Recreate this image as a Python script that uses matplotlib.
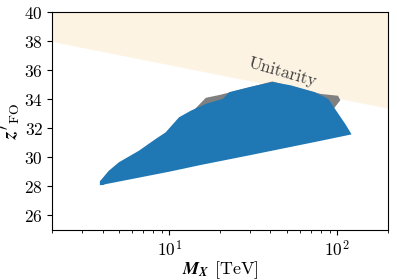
import numpy as np
import matplotlib
matplotlib.use("Agg")
import matplotlib.pyplot as plt

plt.rcParams.update({
    "font.family": "serif",
    "font.serif": ["cmr10"],
    "mathtext.fontset": "cm",
    "mathtext.rm": "cmr10",
    "mathtext.it": "cmmi10",
    "mathtext.bfit": "STIXGeneral:italic:bold",
    "axes.formatter.use_mathtext": True,
    "axes.unicode_minus": False,
})

# Unitarity bound (line in log M_X)
unit_x = [2.0, 200.0]
unit_y = [38.0, 33.4]

# Blue region boundary (M_X [TeV], z'_FO)
blue_x = [3.93, 4.41, 5.06, 6.66, 8.38, 9.62, 11.56, 13.58, 16.7, 21.0, 23.0, 30.3,
          41.0, 52.7, 72.7, 87.3, 95.7, 110.0, 118.0,
          76.0, 30.0, 15.2, 10.0, 3.93]
blue_y = [28.32, 29.01, 29.59, 30.39, 31.20, 31.66, 32.70, 33.15, 33.62, 33.96, 34.42, 34.77,
          35.11, 34.88, 34.42, 33.96, 33.27, 32.24, 31.66,
          31.20, 30.25, 29.57, 29.12, 28.2]

# Grey region boundary
grey_x = [14.5, 16.6, 20.1, 26.4, 41.0, 79.6, 100.0, 102.5, 94.0, 60.0, 20.0]
grey_y = [33.35, 34.05, 34.25, 34.6, 35.17, 34.31, 34.19, 33.96, 33.4, 33.0, 32.0]

# Isolated edge points on the low-mass tip
dots_x = [3.98, 4.35, 4.6, 4.95, 5.3]
dots_y = [28.33, 28.55, 28.85, 29.0, 29.3]

fig = plt.figure(figsize=(3.97, 2.80), dpi=100)
ax = fig.add_axes([0.131, 0.1786, 0.846, 0.7768])

xs = np.logspace(np.log10(unit_x[0]), np.log10(unit_x[1]), 50)
ys = np.interp(np.log10(xs), np.log10(unit_x), unit_y)
ax.fill_between(xs, ys, 40, color="#fdf3e2", lw=0, zorder=0)

ax.fill(grey_x, grey_y, color="gray", lw=1.5, ec="gray", zorder=1)
ax.fill(blue_x, blue_y, color="#1f77b4", lw=2.0, ec="#1f77b4", zorder=2)
ax.scatter(dots_x, dots_y, s=14, color="#1f77b4", lw=0, zorder=3)

ax.text(47, 35.85, "Unitarity", rotation=-16, ha="center", va="center",
        fontsize=12.5, color="0.25")

ax.set_xscale("log")
ax.set_xlim(2, 200)
ax.set_ylim(25, 40)
ax.set_yticks([26, 28, 30, 32, 34, 36, 38, 40])
ax.tick_params(labelsize=12.5, direction="out", pad=3)
xl = ax.set_xlabel(r"$\mathbfit{M_X}$ [TeV]", fontsize=13, labelpad=0)
xl.set_math_fontfamily("custom")
yl = ax.set_ylabel(r"$\mathbfit{z}'_{\mathrm{FO}}$", fontsize=14, labelpad=1)
yl.set_math_fontfamily("custom")

fig.savefig("out.png", dpi=100)
